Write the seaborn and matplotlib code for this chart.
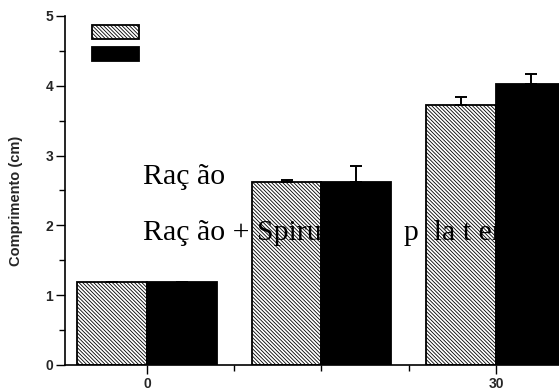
import matplotlib
matplotlib.use("Agg")
import matplotlib.pyplot as plt
import seaborn as sns
import pandas as pd
import numpy as np
from matplotlib.patches import Patch

# ---- data ----
days = [0, 15, 30]
groups = ["Ração", "Ração + Spirulina platensis"]
racao = [1.19, 2.62, 3.72]
racao_err = [0.0, 0.03, 0.12]
spir = [1.19, 2.62, 4.03]
spir_err = [0.0, 0.23, 0.14]
legend_text_1 = "Raç ão"
legend_text_2 = "Raç ão + Spirulina     p  la t ensis"
ylabel = "Comprimento (cm)"

df = pd.DataFrame({
    "day": days + days,
    "grupo": [groups[0]] * 3 + [groups[1]] * 3,
    "valor": racao + spir,
})

sns.set_style("white")
plt.rcParams["font.family"] = ["Liberation Sans", "DejaVu Sans"]
plt.rcParams["hatch.linewidth"] = 0.6

HATCH = "\\" * 9

fig = plt.figure(figsize=(5.59, 3.91), dpi=100)
ax = fig.add_axes([65 / 559, 26 / 391, 1 - 65 / 559, 349 / 391])

sns.barplot(data=df, x="day", y="valor", hue="grupo", native_scale=True,
            palette=["white", "black"], errorbar=None, legend=False,
            edgecolor="black", linewidth=1.3, ax=ax)

for bar in ax.containers[0]:
    bar.set_hatch(HATCH)
    bar.set_edgecolor("black")

# error bars (upward only)
for cont, vals, errs in zip(ax.containers, [racao, spir], [racao_err, spir_err]):
    xs = [b.get_x() + b.get_width() / 2 for b in cont]
    ax.errorbar(xs, vals, yerr=[np.zeros(len(errs)), errs], fmt="none",
                ecolor="black", elinewidth=1.4, capsize=4.5, capthick=1.4,
                zorder=1)

ax.set_xlim(-7.05, 35.42)
ax.set_ylim(0, 5)
ax.set_xticks([0, 30])
ax.set_xticks([7.5, 15, 22.5], minor=True)
ax.set_yticks([0, 1, 2, 3, 4, 5])
ax.set_yticks([0.5, 1.5, 2.5, 3.5, 4.5], minor=True)
ax.set_xlabel("")
ax.set_ylabel("")
for lab in ax.get_xticklabels() + ax.get_yticklabels():
    lab.set_fontweight("heavy")
    lab.set_fontsize(10)
ax.tick_params(axis="both", which="major", direction="out", length=6.5,
               width=1.0, color="black", pad=2, bottom=True, left=True)
ax.tick_params(axis="both", which="minor", direction="out", length=4,
               width=1.0, color="black", bottom=True, left=True)
for s in ["top", "right"]:
    ax.spines[s].set_visible(False)
for s in ["left", "bottom"]:
    ax.spines[s].set_color("black")
    ax.spines[s].set_linewidth(1.2)

# legend handles (labels were displaced in the original)
h1 = Patch(facecolor="white", edgecolor="black", hatch=HATCH, linewidth=1.3)
h2 = Patch(facecolor="black", edgecolor="black", linewidth=1.3)
fig.legend([h1, h2], ["", ""], loc="upper left",
           bbox_to_anchor=(92 / 559, 1 - 25 / 391), frameon=False,
           handlelength=3.4, handleheight=1.2, handletextpad=0,
           labelspacing=0.5, borderpad=0, borderaxespad=0)

fig.text(143 / 559, 1 - 184 / 391, legend_text_1, family="Liberation Serif",
         fontsize=21.5, va="baseline", ha="left", color="black")
fig.text(143 / 559, 1 - 240 / 391, legend_text_2, family="Liberation Serif",
         fontsize=21.5, va="baseline", ha="left", color="black")

fig.text(16 / 559, 1 - 201 / 391, ylabel, rotation=90, fontweight="heavy",
         fontsize=10.5, ha="center", va="center")

fig.savefig("out.png", dpi=100)
